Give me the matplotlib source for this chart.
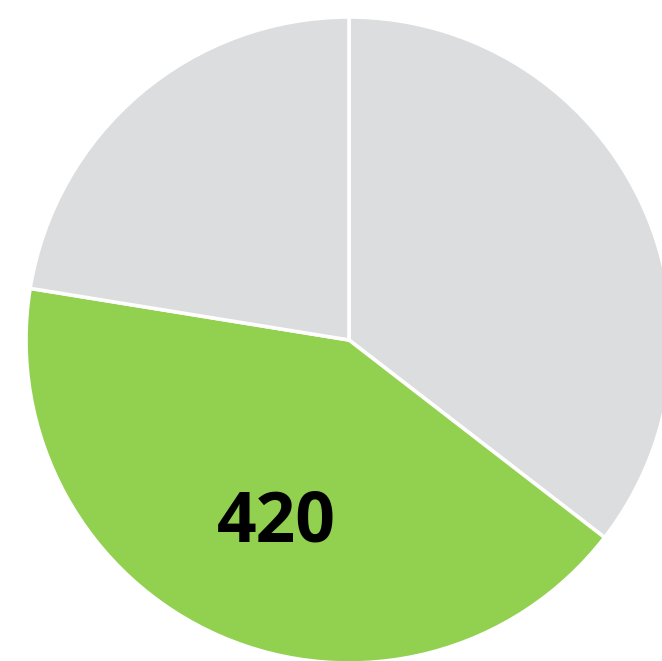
import matplotlib
matplotlib.use("Agg")
import matplotlib.pyplot as plt

# slice values, clockwise from 12 o'clock
values = [354, 420, 224]
colors = ['#DCDDDF', '#92D050', '#DCDDDF']
shown = [False, True, False]

fig = plt.figure(figsize=(6.62, 6.61), dpi=100)
ax = fig.add_axes([0, 0, 1, 1])

total = sum(values)
def label(pct):
    v = int(round(pct * total / 100.0))
    return str(v) if v in [x for x, s in zip(values, shown) if s] else ''

wedges, texts, autotexts = ax.pie(
    values, colors=colors, startangle=90, counterclock=False,
    autopct=label, pctdistance=0.6,
    wedgeprops=dict(edgecolor='white', linewidth=2.6),
    textprops=dict(fontsize=50, fontweight='bold', color='black', family='Open Sans'))

# pie radius is 1 -> 323 px, centre at (349, 340) px from top-left
r = 323.0
ax.set_xlim(-349 / r, (662 - 349) / r)
ax.set_ylim(-(661 - 340) / r, 340 / r)
ax.set_aspect('auto')
ax.axis('off')

# nudge the value label a little to match the reference
autotexts[1].set_position(((276 - 349) / r, (340 - 524) / r))

fig.savefig('out.png', dpi=100)
